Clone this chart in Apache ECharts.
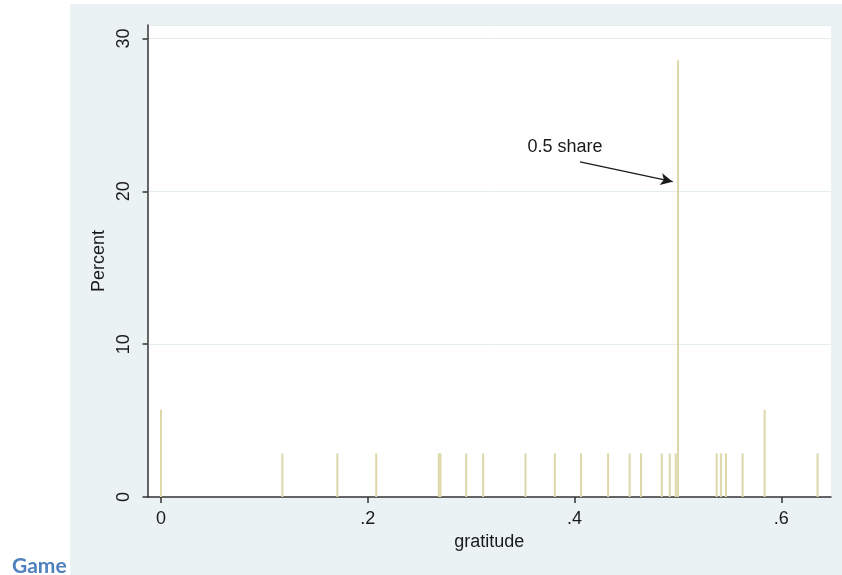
<!DOCTYPE html>
<html>
<head>
<meta charset="utf-8">
<script src="https://cdn.jsdelivr.net/npm/echarts@6/dist/echarts.min.js"></script>
<style>
	html, body {
		margin: 0;
		padding: 0;
		background: #ffffff;
	}
	.outer-bg {
		position: absolute;
		left: 70px;
		top: 4px;
		width: 772px;
		height: 571px;
		background: #eaf2f3;
	}
	#chart {
		position: absolute;
		left: 0;
		top: 0;
		width: 842px;
		height: 575px;
	}
</style>
</head>
<body>
<div class="outer-bg"></div>
<div id="chart"></div>
<script>
	// gratitude values (share) and percent of observations at each value
	const gratitude = [
		0, 0.1174, 0.1706, 0.2082, 0.2687, 0.2703, 0.2952, 0.3116, 0.3525,
		0.3809, 0.4063, 0.4324, 0.4533, 0.4643, 0.4843, 0.4920, 0.4978,
		0.5, 0.5374, 0.5415, 0.5464, 0.5625, 0.5838, 0.635
	];
	const percent = [
		5.714, 2.857, 2.857, 2.857, 2.857, 2.857, 2.857, 2.857, 2.857,
		2.857, 2.857, 2.857, 2.857, 2.857, 2.857, 2.857, 2.857,
		28.571, 2.857, 2.857, 2.857, 2.857, 5.714, 2.857
	];
	const xTicks = [0, 0.2, 0.4, 0.6];
	const xTickLabels = ["0", ".2", ".4", ".6"];

	// annotation: label and arrow (data coords)
	const noteText = "0.5 share";
	const notePos = [0.3908, 22.9];
	const arrowFrom = [0.4053, 21.93];
	const arrowTo = [0.4949, 20.63];

	const chart = echarts.init(document.getElementById("chart"));

	const axisColor = "#333333";
	const textColor = "#1a1a1a";
	const font = "Liberation Sans, Arial, sans-serif";

	chart.setOption({
		animation: false,
		backgroundColor: "transparent",
		grid: {
			left: 147.5,
			right: 11,
			top: 25,
			bottom: 78,
			show: true,
			backgroundColor: "#ffffff",
			borderWidth: 0,
		},
		xAxis: {
			type: "value",
			min: -0.013,
			max: 0.648,
			name: "gratitude",
			nameLocation: "middle",
			nameGap: 33,
			nameTextStyle: { color: textColor, fontSize: 18, fontFamily: font },
			axisLine: { show: true, onZero: false, lineStyle: { color: axisColor, width: 1.5 } },
			axisTick: {
				show: true,
				length: 6,
				customValues: xTicks,
				lineStyle: { color: axisColor, width: 1.5 },
			},
			axisLabel: {
				customValues: xTicks,
				margin: 13,
				color: textColor,
				fontSize: 18,
				fontFamily: font,
				formatter: (v) => xTickLabels[xTicks.findIndex((t) => Math.abs(t - v) < 1e-6)],
			},
			splitLine: { show: false },
		},
		yAxis: {
			type: "value",
			min: 0,
			max: 30.88,
			interval: 10,
			name: "Percent",
			nameLocation: "middle",
			nameGap: 37,
			nameTextStyle: { color: textColor, fontSize: 18, fontFamily: font },
			axisLine: { show: true, onZero: false, lineStyle: { color: axisColor, width: 1.5 } },
			axisTick: { show: true, length: 5, lineStyle: { color: axisColor, width: 1.5 } },
			axisLabel: {
				rotate: 90,
				margin: 14,
				color: textColor,
				fontSize: 18,
				fontFamily: font,
				showMaxLabel: false,
				formatter: (v) => (v % 10 === 0 ? String(v) : ""),
			},
			splitLine: { show: true, lineStyle: { color: "#e4eef0", width: 1 } },
		},
		graphic: [
			{
				type: "text",
				left: 12,
				top: 556,
				style: {
					text: "Game",
					fill: "#4f81bd",
					font: "bold 21px Lato, 'Open Sans', sans-serif",
				},
			},
		],
		series: [
			{
				type: "bar",
				barWidth: 2,
				data: gratitude.map((g, i) => [g, percent[i]]),
				itemStyle: { color: "#ddd7a9" },
				markPoint: {
					symbol: "circle",
					symbolSize: 0,
					data: [{ coord: notePos }],
					label: {
						show: true,
						position: "inside",
						formatter: noteText,
						color: textColor,
						fontSize: 18,
						fontFamily: font,
					},
				},
				markLine: {
					silent: true,
					symbol: ["none", "arrow"],
					symbolSize: [9, 12],
					label: { show: false },
					lineStyle: { color: "#1a1a1a", width: 1.2, type: "solid" },
					data: [[{ coord: arrowFrom }, { coord: arrowTo }]],
				},
			},
		],
	});
</script>
</body>
</html>
